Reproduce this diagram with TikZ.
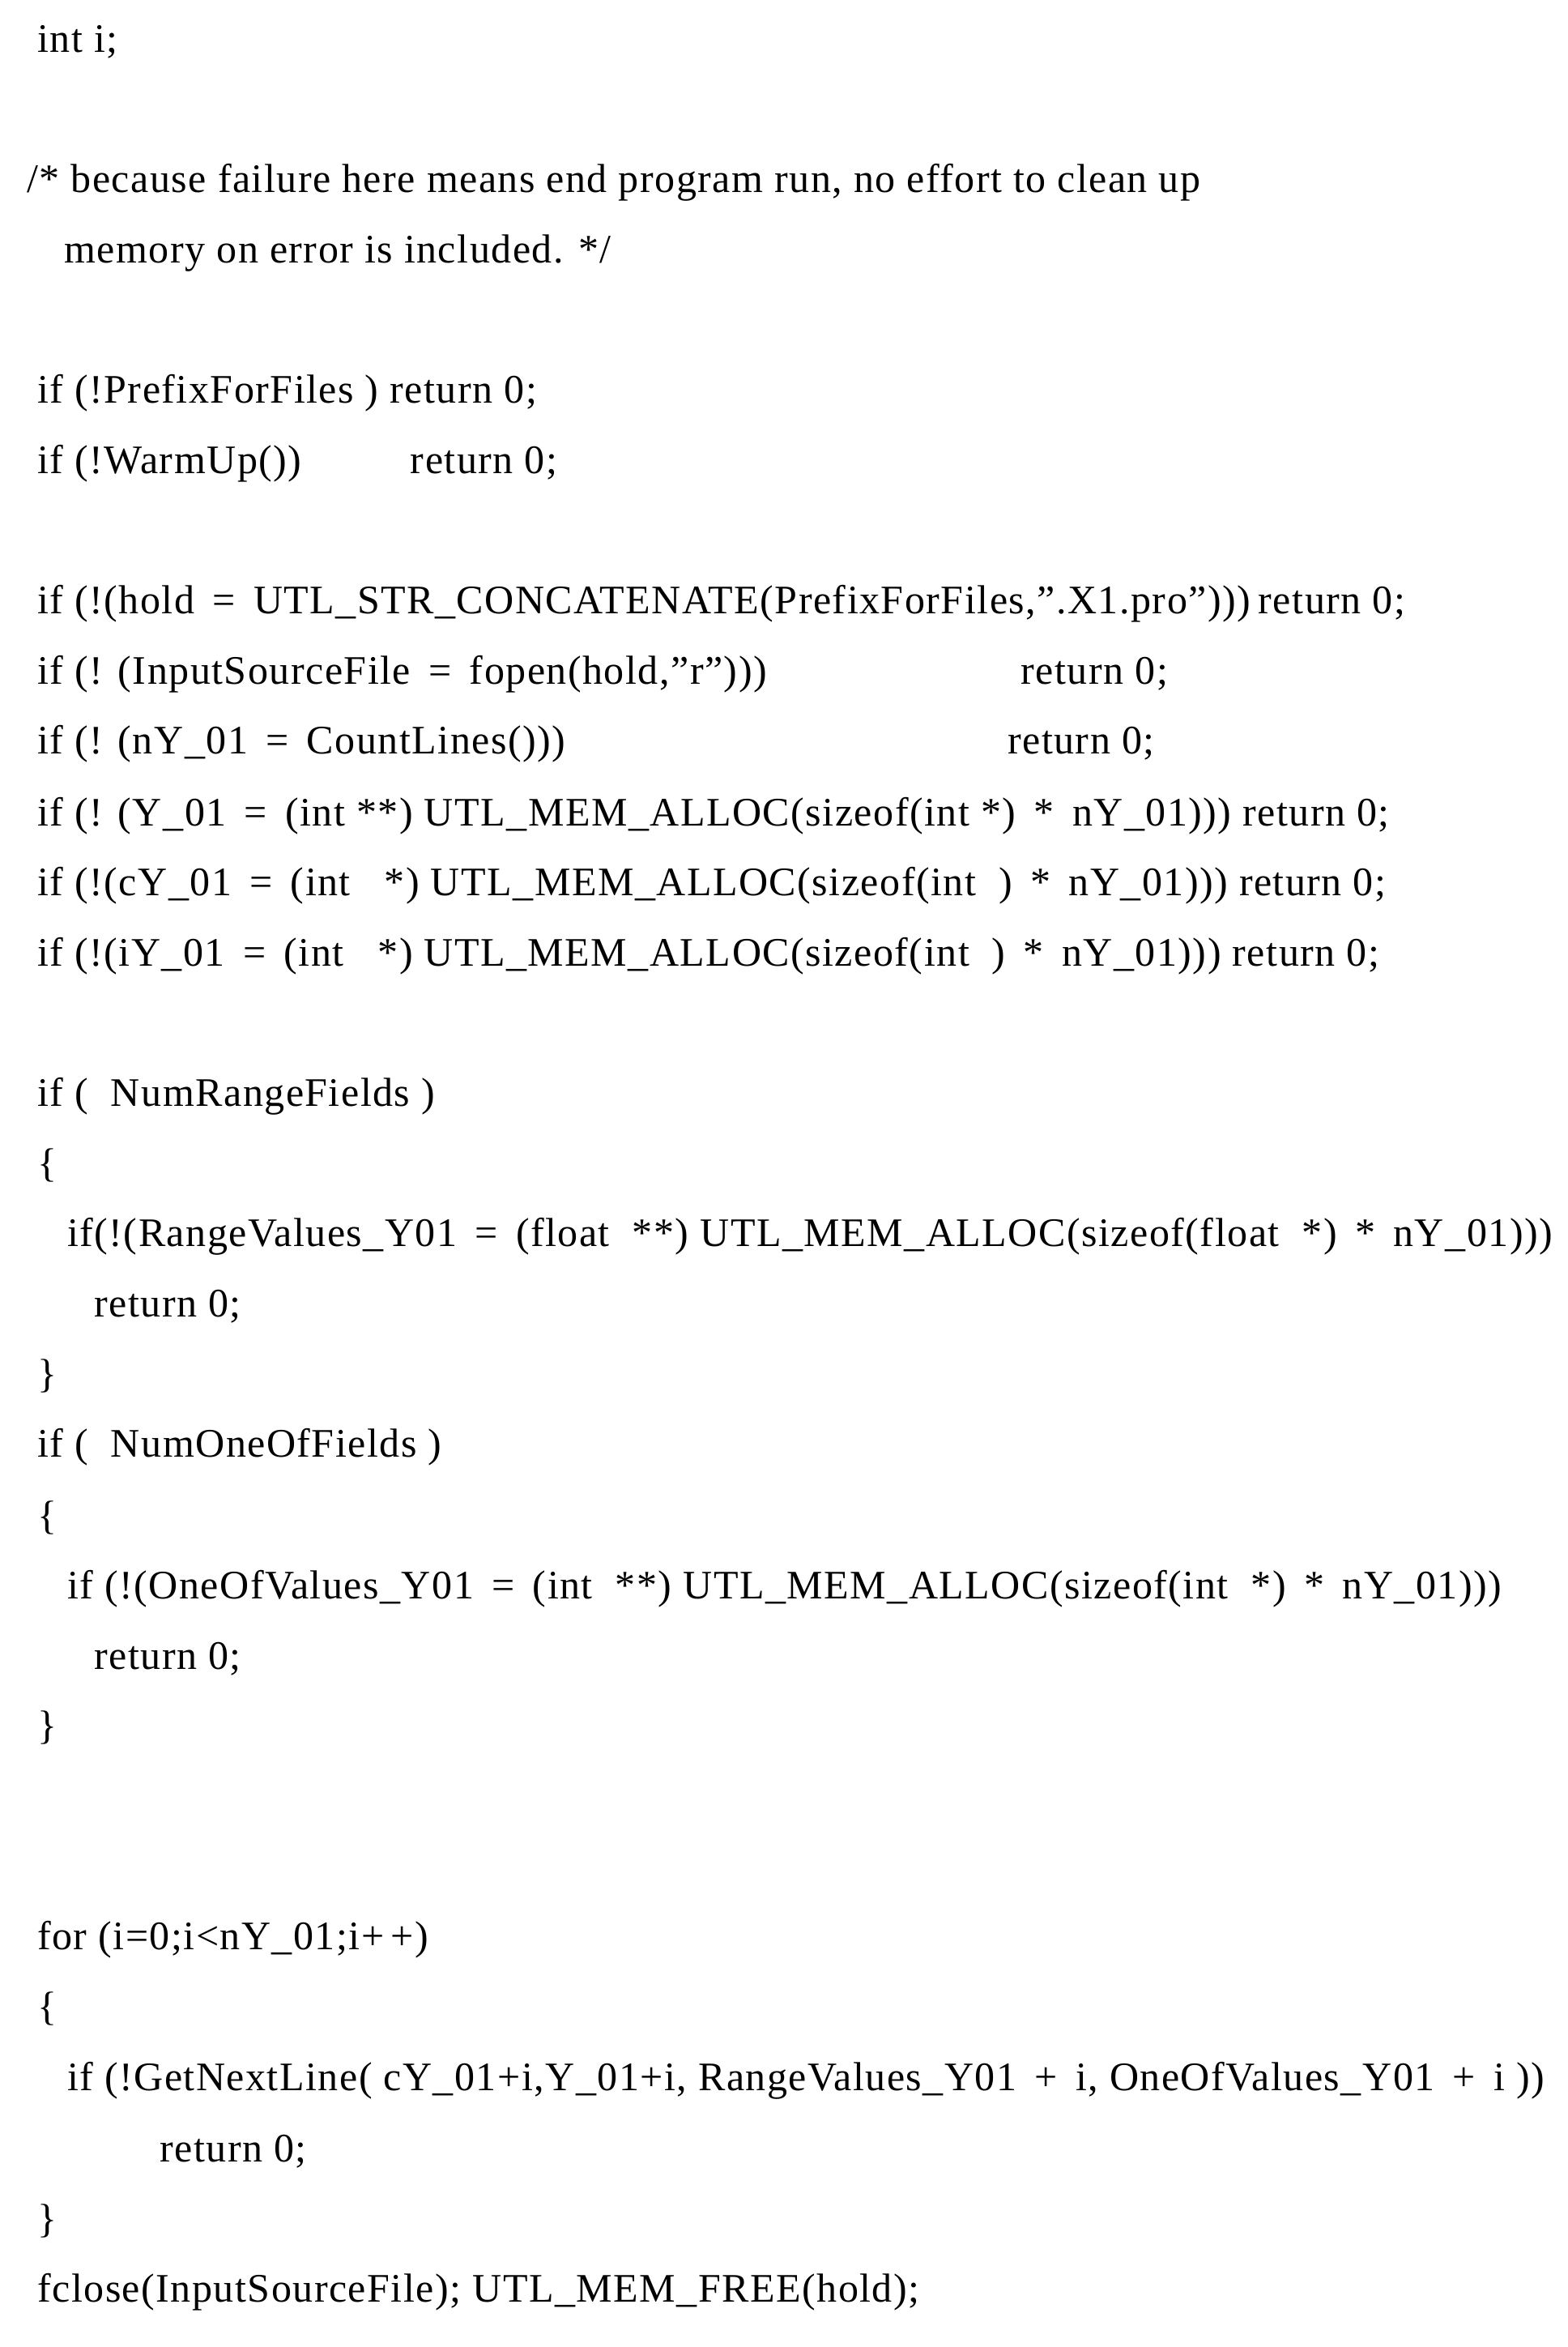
\documentclass[tikz,border=0pt]{standalone}
\usepackage{fontspec}
\setmainfont[LetterSpace=3,Ligatures=NoCommon]{Liberation Serif}
\begin{document}
\begin{tikzpicture}[x=1.843pt,y=-1.843pt,
  ln/.style={anchor=base west,inner sep=0pt,font=\fontsize{50}{56}\selectfont}]
\useasboundingbox (0,0) rectangle (1050,1572);
\newcommand\Ln[4]{\node[ln] (#1) at (#2,#3) {#4};}
\newcommand\q{\symbol{34}}
\Ln{a1}{25}{35}{int i;}
\Ln{a2}{18}{129}{/* because failure here means end program run, no effort to clean up}
\Ln{a3}{43}{176}{memory on error is included. */}
\Ln{a4}{25}{270}{if (!PrefixForFiles ) return 0;}
\Ln{a5}{25}{317}{if (!WarmUp())}
\Ln{a5r}{275}{317}{return 0;}
\Ln{a6}{25}{411}{if (!(hold \,=\, UTL\_STR\_CONCATENATE(PrefixForFiles,\q.X1.pro\q)))}
\Ln{a6r}{843}{411}{return 0;}
\Ln{a7}{25}{458}{if (! (InputSourceFile \,=\, fopen(hold,\q r\q)))}
\Ln{a7r}{684}{458}{return 0;}
\Ln{a8}{25}{505}{if (! (nY\_01 \,=\, CountLines()))}
\Ln{a8r}{675}{505}{return 0;}
\Ln{a9}{25}{553}{if (! (Y\_01 \,=\, (int **) UTL\_MEM\_ALLOC(sizeof(int *) \,*\, nY\_01))) return 0;}
\Ln{a10}{25}{600}{if (!(cY\_01 \,=\, (int \ \ *) UTL\_MEM\_ALLOC(sizeof(int \ ) \,*\, nY\_01))) return 0;}
\Ln{a11}{25}{647}{if (!(iY\_01 \,=\, (int \ \ *) UTL\_MEM\_ALLOC(sizeof(int \ ) \,*\, nY\_01))) return 0;}
\Ln{a12}{25}{741}{if ( \ NumRangeFields )}
\Ln{a13}{25}{788}{\{}
\Ln{a14}{45}{835}{if(!(RangeValues\_Y01 \,=\, (float \ **) UTL\_MEM\_ALLOC(sizeof(float \ *) \,*\, nY\_01)))}
\Ln{a15}{63}{882}{return 0;}
\Ln{a16}{25}{929}{\}}
\Ln{a17}{25}{976}{if ( \ NumOneOfFields )}
\Ln{a18}{25}{1024}{\{}
\Ln{a19}{45}{1071}{if (!(OneOfValues\_Y01 \,=\, (int \ **) UTL\_MEM\_ALLOC(sizeof(int \ *) \,*\, nY\_01)))}
\Ln{a20}{63}{1118}{return 0;}
\Ln{a21}{25}{1165}{\}}
\Ln{a22}{25}{1306}{for (i=0;i<nY\_01;i+\,+)}
\Ln{a23}{25}{1353}{\{}
\Ln{a24}{45}{1400}{if (!GetNextLine( cY\_01+i,Y\_01+i, RangeValues\_Y01 \,+\, i, OneOfValues\_Y01 \,+\, i ))}
\Ln{a25}{107}{1448}{return 0;}
\Ln{a26}{25}{1495}{\}}
\Ln{a27}{25}{1542}{fclose(InputSourceFile); UTL\_MEM\_FREE(hold);}
\end{tikzpicture}
\end{document}
